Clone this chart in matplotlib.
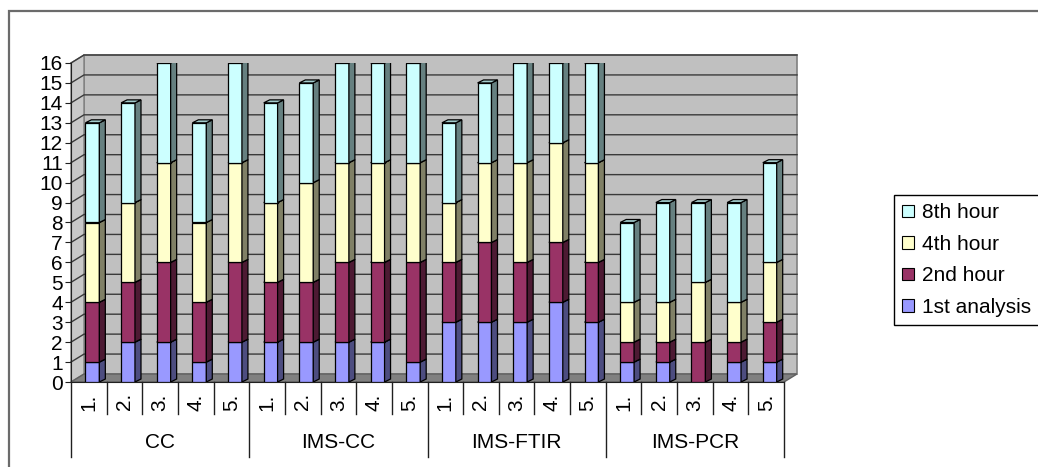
import matplotlib
matplotlib.use('Agg')
import matplotlib.pyplot as plt
from matplotlib.patches import Polygon, Rectangle, Patch

plt.rcParams['font.family'] = ['Liberation Sans', 'DejaVu Sans']

# data (stacked counts per run)
groups = ['CC', 'IMS-CC', 'IMS-FTIR', 'IMS-PCR']
runs = ['1.', '2.', '3.', '4.', '5.']
first = [1, 2, 2, 1, 2, 2, 2, 2, 2, 1, 3, 3, 3, 4, 3, 1, 1, 0, 1, 1]
second = [3, 3, 4, 3, 4, 3, 3, 4, 4, 5, 3, 4, 3, 3, 3, 1, 1, 2, 1, 2]
fourth = [4, 4, 5, 4, 5, 4, 5, 5, 5, 5, 3, 4, 5, 5, 5, 2, 2, 3, 2, 3]
eighth = [5, 5, 5, 5, 5, 5, 5, 5, 5, 5, 4, 4, 5, 4, 5, 4, 5, 4, 5, 5]

series = [
    ('1st analysis', first, '#9999ff', '#4d4d80', '#7a7acc'),
    ('2nd hour', second, '#993366', '#4d1a33', '#7a2952'),
    ('4th hour', fourth, '#ffffcc', '#808066', '#cccca3'),
    ('8th hour', eighth, '#ccffff', '#668080', '#a3cccc'),
]

fig = plt.figure(figsize=(10.38, 4.67), dpi=100)
ax = fig.add_axes([71 / 1038, 85 / 467, 713 / 1038, 319 / 467])
n = len(first)
ax.set_xlim(-0.5, n - 0.5)
ax.set_ylim(0, 16)

# 3d offsets in data units
wx, wy = 13 / 35.65, 8 / 19.94   # walls
bx, by = 6 / 35.65, 3 / 19.94    # bar depth
bw = 0.39
shift = 0.1

x0, x1 = -0.5, n - 0.5
# back wall, side wall, floor
ax.add_patch(Polygon([(x0 + wx, wy), (x1 + wx, wy), (x1 + wx, 16 + wy), (x0 + wx, 16 + wy)],
                     closed=True, fc='#c0c0c0', ec='#808080', lw=1.2, clip_on=False, zorder=0))
ax.add_patch(Polygon([(x0, 0), (x0 + wx, wy), (x0 + wx, 16 + wy), (x0, 16)],
                     closed=True, fc='#c8c8c8', ec='#808080', lw=1, clip_on=False, zorder=0))
ax.add_patch(Polygon([(x0, 0), (x1, 0), (x1 + wx, wy), (x0 + wx, wy)],
                     closed=True, fc='#808080', ec='#606060', lw=1, clip_on=False, zorder=1))
for v in range(1, 17):
    ax.plot([x0, x0 + wx, x1 + wx], [v, v + wy, v + wy], color='#3a3a3a', lw=1,
            clip_on=False, zorder=0.5)

# stacked 3d bars
xs = [i + shift for i in range(n)]
bottoms = [0] * n
z = 3
for name, vals, front, side, top in series:
    ax.bar(xs, vals, width=bw, bottom=bottoms, color=front, edgecolor='black',
           linewidth=0.9, zorder=z)
    for xi, b, v in zip(xs, bottoms, vals):
        if v == 0:
            continue
        r = xi + bw / 2
        l = xi - bw / 2
        t = b + v
        ax.add_patch(Polygon([(r, b), (r + bx, b + by), (r + bx, t + by), (r, t)],
                             closed=True, fc=side, ec='black', lw=0.9, zorder=z))
        ax.add_patch(Polygon([(l, t), (r, t), (r + bx, t + by), (l + bx, t + by)],
                             closed=True, fc=top, ec='black', lw=0.9, zorder=z))
    bottoms = [b + v for b, v in zip(bottoms, vals)]
    z += 1

# axes styling
for s in ['top', 'right']:
    ax.spines[s].set_visible(False)
ax.spines['left'].set_color('#202020')
ax.spines['bottom'].set_color('#202020')
ax.set_yticks(range(17))
ax.tick_params(axis='y', labelsize=15, length=4, pad=2, color='#202020')
ax.set_xticks([])
ax.set_facecolor('none')

# category labels and separators
tr = ax.get_xaxis_transform()
for i in range(n):
    ax.text(i, -0.035, runs[i % 5], transform=tr, rotation=90, ha='center', va='top',
            fontsize=15)
for k in range(n + 1):
    depth = -0.235 if k % 5 == 0 else -0.1
    ax.plot([k - 0.5, k - 0.5], [0, depth], transform=tr, color='#202020', lw=1,
            clip_on=False)
for g, name in enumerate(groups):
    ax.text(g * 5 + 2, -0.19, name, transform=tr, ha='center', va='center', fontsize=15)

# legend
handles = [Patch(fc=s[2], ec='black', lw=0.8) for s in series[::-1]]
labels = [s[0] for s in series[::-1]]
fig.legend(handles, labels, loc='upper left', bbox_to_anchor=(894 / 1038, 1 - 195 / 467),
           fontsize=15, frameon=True, fancybox=False, edgecolor='black', framealpha=1,
           borderaxespad=0, handlelength=0.55, handleheight=0.55, handletextpad=0.4,
           labelspacing=0.6, borderpad=0.4)

# outer chart frame
fig.add_artist(Rectangle((9 / 1038, -0.1), 2, 1 - 11 / 467 + 0.1, transform=fig.transFigure,
                         fill=False, ec='#6b6b6b', lw=1.6))

fig.savefig('out.png', dpi=100)
